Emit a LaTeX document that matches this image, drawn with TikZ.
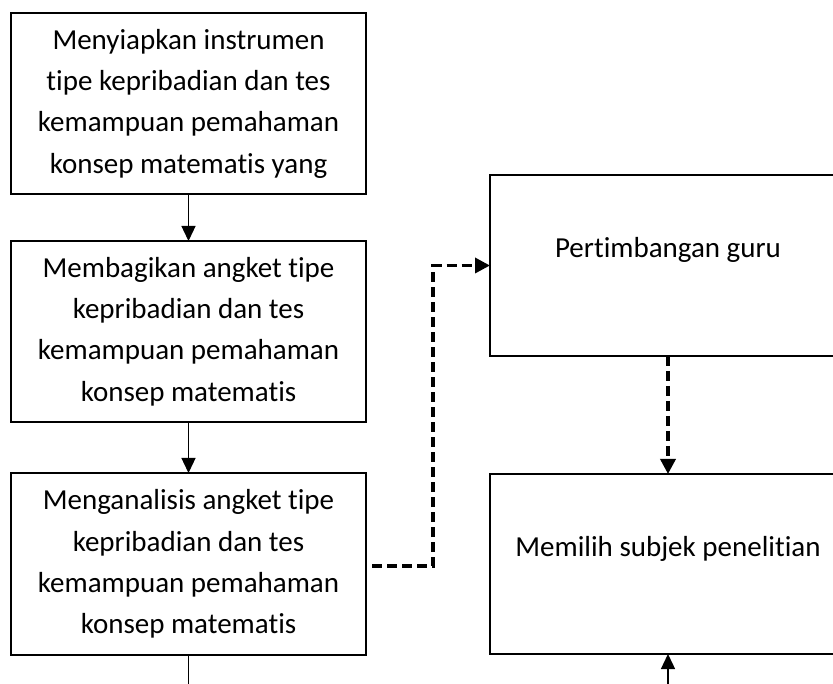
\documentclass[tikz,border=0pt]{standalone}
\usepackage{fontspec}
\setmainfont{Carlito}[Ligatures={NoCommon}]
\usetikzlibrary{arrows.meta}
\tikzset{
  box/.style={draw=black, line width=2.6pt, fill=white, inner sep=0pt, outer sep=0pt,
    align=center, font=\fontsize{29}{41.3}\selectfont},
  lbox/.style={box, minimum width=355pt},
  rbox/.style={box, minimum width=356pt},
  lbl/.style={inner sep=0pt, font=\fontsize{29}{41.3}\selectfont},
  solidarrow/.style={line width=1.3pt, -{Triangle[width=14pt,length=15pt]}},
  plainline/.style={line width=1.3pt},
  dasharrow/.style={line width=3.4pt, dash pattern=on 10pt off 5pt, -{Triangle[width=15pt,length=15pt]}}
}
\begin{document}
\begin{tikzpicture}[x=1pt,y=-1pt]
\clip (0,0) rectangle (833,684);
\fill[white] (0,0) rectangle (833,684);
\node[lbox, minimum height=181pt] (b1) at (188.5,103.5)
  {Menyiapkan instrumen\\tipe kepribadian dan tes\\kemampuan pemahaman\\konsep matematis yang};
\node[lbox, minimum height=181pt] (b2) at (188.5,331.5)
  {Membagikan angket tipe\\kepribadian dan tes\\kemampuan pemahaman\\konsep matematis};
\node[lbox, minimum height=182pt] (b3) at (188.5,564)
  {Menganalisis angket tipe\\kepribadian dan tes\\kemampuan pemahaman\\konsep matematis};
\node[rbox, minimum height=181pt] (pert) at (668,265.5) {};
\node[lbl] (pertlbl) at (668,250) {Pertimbangan guru};
\node[rbox, minimum height=180pt] (mem) at (668,564) {};
\node[lbl] (memlbl) at (668,549) {Memilih subjek penelitian};
\coordinate (bl) at (188.5,690);
\coordinate (br) at (668,690);
\draw[solidarrow] (b1.south) -- (b2.north);
\draw[solidarrow] (b2.south) -- (b3.north);
\draw[plainline] (b3.south) -- (bl);
\draw[solidarrow] (br) -- (mem.south);
\draw[dasharrow] ([xshift=6pt,yshift=-2pt]b3.east) -- ++(61,0) |- (pert.west);
\draw[dasharrow] (pert.south) -- (mem.north);
\end{tikzpicture}
\end{document}
